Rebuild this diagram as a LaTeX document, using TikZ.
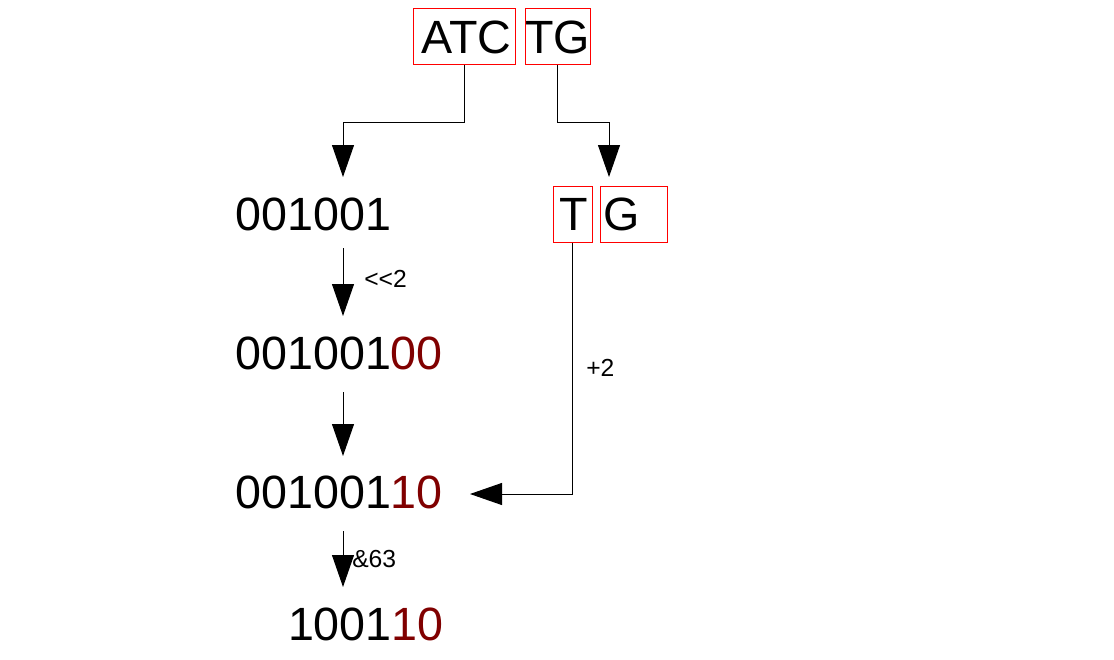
\documentclass[tikz,border=0pt]{standalone}
\usepackage{fontspec}
\setmainfont{Liberation Sans}
\usetikzlibrary{arrows.meta}
\definecolor{boxred}{RGB}{255,0,0}
\definecolor{bitred}{RGB}{128,0,0}
\begin{document}
\begin{tikzpicture}[x=0.75pt,y=0.75pt,yscale=-1,xscale=1,
  big/.style={font=\fontsize{35}{42}\selectfont,inner sep=0pt},
  small/.style={font=\fontsize{18.5}{22}\selectfont,inner sep=0pt},
  charbox/.style={draw=boxred,line width=0.75pt,big,minimum height=42pt},
  flow/.style={draw=black,line width=0.75pt,-{Triangle[length=24pt,width=16.5pt]}}]
\useasboundingbox (0,0) rectangle (1114,660);

% Input boxes
\node (atc) [charbox,minimum width=76.5pt] at (464,37) {\hspace{4pt}ATC};
\node (tg) [charbox,minimum width=48.75pt] at (557.5,37) {TG};

% Split boxes
\node (tbox) [charbox,minimum width=29.25pt] at (572.5,214) {\hspace{1.5pt}T};
\node (gbox) [charbox,text width=46pt,inner xsep=2pt,align=left] at (634,214) {G};

% Bit values
\node (bitsa) [big,anchor=base west] at (235,230) {001001};
\node (bitsb) [big,anchor=base west] at (235,369) {001001\textcolor{bitred}{00}};
\node (bitsc) [big,anchor=base west] at (235,508) {001001\textcolor{bitred}{10}};
\node (bitsd) [big,anchor=base east] at (444,640) {1001\textcolor{bitred}{10}};

% Arrow ends
\coordinate (ina) at (343,177);
\coordinate (ing) at (609,177);
\coordinate (outa) at (343,248);
\coordinate (inb) at (343,316);
\coordinate (outb) at (343,392);
\coordinate (inc) at (343,456);
\coordinate (outc) at (343,531);
\coordinate (ind) at (343,587);
\coordinate (addt) at (470,494);

% Connectors
\draw [flow] (atc.south) -- ++(0,57) -| (ina);
\draw [flow] (tg.south) -- ++(0,57) -| (ing);
\draw [flow] (outa) -- (inb);
\draw [flow] (outb) -- (inc);
\draw [flow] (outc) -- (ind);
\draw [flow] (tbox.south) |- (addt);

% Operation labels
\node (shift) [small,anchor=base west] at (364,287) {<{}<2};
\node (plus) [small,anchor=base west] at (586,376) {+2};
\node (mask) [small,anchor=base west] at (352,567) {\&63};

\end{tikzpicture}
\end{document}
